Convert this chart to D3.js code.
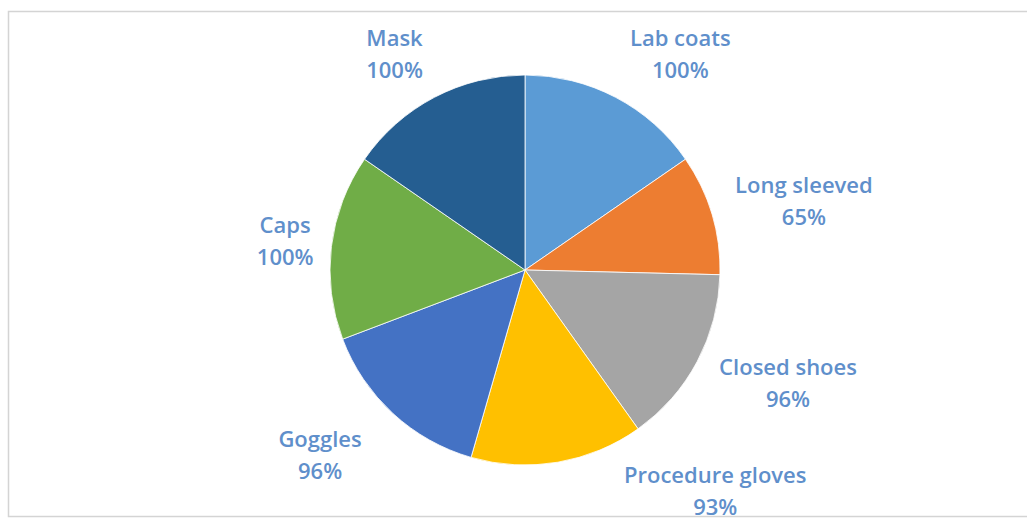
<!DOCTYPE html>
<html>
<head>
<meta charset="utf-8">
<script src="https://cdn.jsdelivr.net/npm/d3@7"></script>
<style>
  html, body { margin: 0; padding: 0; background: #fff; }
  svg { display: block; }
</style>
</head>
<body>
<svg id="chart" width="1027" height="521"></svg>
<script>
// data
var categories = ["Lab coats", "Long sleeved", "Closed shoes", "Procedure gloves", "Goggles", "Caps", "Mask"];
var values = [100, 65, 96, 93, 96, 100, 100];
var colors = ["#5b9bd5", "#ed7d31", "#a5a5a5", "#ffc000", "#4472c4", "#70ad47", "#255e91"];

// excel "best fit" moves labels a bit off the plain radial spot
var labelNudge = {
	"Lab coats": [6, 0],
	"Mask": [-3, 0],
	"Long sleeved": [6, 1],
	"Closed shoes": [6, -1],
	"Goggles": [-19, 6],
	"Procedure gloves": [139, -20],
	"Caps": [0, 0]
};

var width = 1027, height = 521;
var cx = 525, cy = 270, radius = 195;

var svg = d3.select("#chart");

// chart area frame
svg.append("rect")
	.attr("x", 8.5).attr("y", 11.5)
	.attr("width", 1030).attr("height", 505)
	.attr("fill", "#fff")
	.attr("stroke", "#d4d4d4")
	.attr("stroke-width", 1.5);

var rows = categories.map(function(c, i) { return { name: c, value: values[i], color: colors[i] }; });

var pie = d3.pie().sort(null).value(function(d) { return d.value; });
var arc = d3.arc().innerRadius(0).outerRadius(radius);

var g = svg.append("g").attr("transform", "translate(" + cx + "," + cy + ")");

g.selectAll("path")
	.data(pie(rows))
	.enter()
	.append("path")
	.attr("d", arc)
	.attr("fill", function(d) { return d.data.color; })
	.attr("stroke", "#fff")
	.attr("stroke-width", 0.8);

var lineGap = 32, gap = 18;

var labels = g.selectAll("g.label")
	.data(pie(rows))
	.enter()
	.append("g")
	.attr("class", "label");

labels.each(function(d) {
	var el = d3.select(this);
	var t = el.append("text")
		.attr("text-anchor", "middle")
		.style("font-family", "'Open Sans', Lato, sans-serif")
		.style("font-weight", "600")
		.style("font-size", "22px")
		.attr("fill", "#5f8fcb");
	t.append("tspan").attr("x", 0).attr("y", -lineGap / 2 + 8).text(d.data.name);
	t.append("tspan").attr("x", 0).attr("y", lineGap / 2 + 8).text(d.data.value + "%");

	// box sits next to the rim along the mid angle, then nudged
	var bb = t.node().getBBox();
	var a = (d.startAngle + d.endAngle) / 2;
	var s = Math.sin(a), c = -Math.cos(a);
	var px = (radius + gap) * s, py = (radius + gap) * c;
	var half = Math.abs(s) > 0.3 ? Math.sign(s) * bb.width / 2 : s * bb.width / 2;
	var x = px + half, y = py + c * bb.height / 2;
	var n = labelNudge[d.data.name] || [0, 0];
	el.attr("transform", "translate(" + (x + n[0]) + "," + (y + n[1]) + ")");
});
</script>
</body>
</html>
